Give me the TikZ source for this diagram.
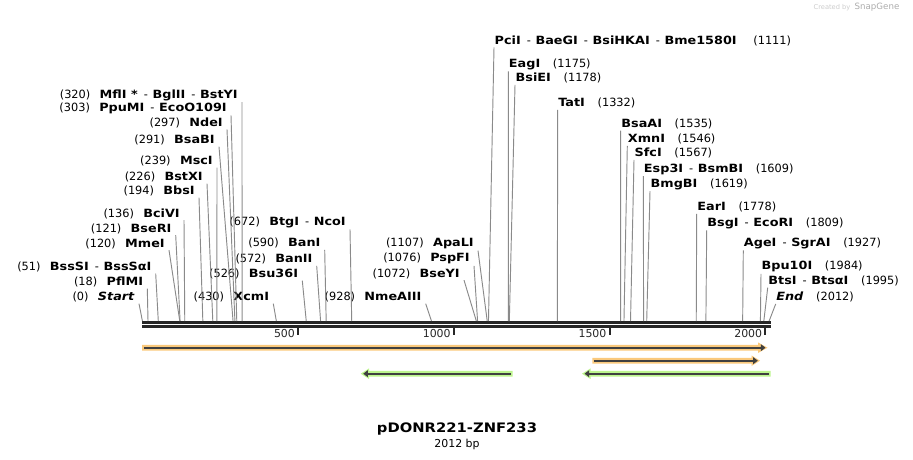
\documentclass[tikz,border=0pt]{standalone}
\usepackage{fontspec}
\setmainfont{DejaVu Sans}[BoldFeatures={FakeStretch=1.13},BoldItalicFeatures={FakeStretch=1.13}]
\usetikzlibrary{arrows.meta}
\definecolor{cutgray}{HTML}{8A8A8A}
\definecolor{axisblack}{HTML}{262626}
\definecolor{featorange}{HTML}{FAC97C}
\definecolor{featgreen}{HTML}{BDF58E}
\definecolor{featdark}{HTML}{404040}
\newcommand{\sepd}{\hspace{4.5pt}-\hspace{3.5pt}}
\newcommand{\lab}{\fontsize{8.5}{10}\selectfont}

\begin{document}
\begin{tikzpicture}[x=0.75pt,y=-0.75pt,
lft/.style={anchor=east,inner xsep=3pt,inner ysep=1pt,font=\lab},
rgt/.style={anchor=west,inner xsep=0.3pt,inner ysep=1pt,font=\lab},
cut/.style={draw=cutgray,line width=0.7pt},
featline/.style={draw=featdark,line width=1.3pt},
tip/.style={-{Triangle[length=3.5pt,width=5pt]}}]
\useasboundingbox (0,0) rectangle (913,460);
\foreach \p in {0,18,51,120,121,136,194,226,239,291,297,303,320,430,526,572,590,672,928,1072,1076,1107,1111,1175,1178,1332,1535,1546,1567,1609,1619,1778,1809,1927,1984,1995,2012}
  \coordinate (p\p) at ({142.4+0.3115*\p},321);
\fill[axisblack] (142,321) rectangle (770.7,323.6);
\fill[axisblack] (142,325.2) rectangle (770.7,327.8);
\foreach \t in {500,1000,1500,2000}{
  \draw[axisblack,line width=1.5pt] ({142.4+0.3115*\t},327) -- ({142.4+0.3115*\t},334.5);
  \node[font=\fontsize{8.2}{10}\selectfont,text=axisblack,anchor=east,inner sep=0pt] (t\t) at ({139.4+0.3115*\t},333.5) {\t};
}
\node[lft] (mfl) at (242,95) {(320)\hspace{7pt}\textbf{MflI *}\sepd\textbf{BglII}\sepd\textbf{BstYI}};
\node[lft] (ppu) at (231,108.3) {(303)\hspace{7pt}\textbf{PpuMI}\sepd\textbf{EcoO109I}};
\node[lft] (nde) at (227,122.7) {(297)\hspace{7pt}\textbf{NdeI}};
\node[lft] (bsab) at (219,140) {(291)\hspace{7pt}\textbf{BsaBI}};
\node[lft] (msc) at (217,161) {(239)\hspace{7pt}\textbf{MscI}};
\node[lft] (bstx) at (207,177) {(226)\hspace{7pt}\textbf{BstXI}};
\node[lft] (bbs) at (199,191) {(194)\hspace{7pt}\textbf{BbsI}};
\node[lft] (bciv) at (184,213.5) {(136)\hspace{7pt}\textbf{BciVI}};
\node[lft] (bser) at (175.7,228.5) {(121)\hspace{7pt}\textbf{BseRI}};
\node[lft] (mme) at (169,243.5) {(120)\hspace{7pt}\textbf{MmeI}};
\node[lft] (bsss) at (155.7,267) {(51)\hspace{7pt}\textbf{BssSI}\sepd\textbf{BssSαI}};
\node[lft] (pflm) at (147.3,282) {(18)\hspace{7pt}\textbf{PflMI}};
\node[lft] (start) at (139,297) {(0)\hspace{7pt}\textbf{\textit{Start}}};
\node[lft] (btg) at (350,222.3) {(672)\hspace{7pt}\textbf{BtgI}\sepd\textbf{NcoI}};
\node[lft] (ban1) at (324.7,243.3) {(590)\hspace{7pt}\textbf{BanI}};
\node[lft] (ban2) at (316.7,259.3) {(572)\hspace{7pt}\textbf{BanII}};
\node[lft] (bsu) at (302.3,274) {(526)\hspace{7pt}\textbf{Bsu36I}};
\node[lft] (xcm) at (273.3,297) {(430)\hspace{7pt}\textbf{XcmI}};
\node[lft] (nme) at (425.7,297) {(928)\hspace{7pt}\textbf{NmeAIII}};
\node[lft] (apal) at (478,243.5) {(1107)\hspace{7pt}\textbf{ApaLI}};
\node[lft] (pspf) at (474,258.7) {(1076)\hspace{7pt}\textbf{PspFI}};
\node[lft] (bsey) at (464,273.5) {(1072)\hspace{7pt}\textbf{BseYI}};
\node[rgt] (pci) at (494,40.7) {\textbf{PciI}\sepd\textbf{BaeGI}\sepd\textbf{BsiHKAI}\sepd\textbf{Bme1580I}\hspace{12.5pt}(1111)};
\node[rgt] (eag) at (508.3,64.3) {\textbf{EagI}\hspace{9.5pt}(1175)};
\node[rgt] (bsie) at (515,78.3) {\textbf{BsiEI}\hspace{9.5pt}(1178)};
\node[rgt] (tat) at (557.7,103.3) {\textbf{TatI}\hspace{9.5pt}(1332)};
\node[rgt] (bsaa) at (620.7,124) {\textbf{BsaAI}\hspace{9.5pt}(1535)};
\node[rgt] (xmn) at (627.3,139.3) {\textbf{XmnI}\hspace{9.5pt}(1546)};
\node[rgt] (sfc) at (634,153.3) {\textbf{SfcI}\hspace{9.5pt}(1567)};
\node[rgt] (esp) at (643.3,169) {\textbf{Esp3I}\sepd\textbf{BsmBI}\hspace{9.5pt}(1609)};
\node[rgt] (bmgb) at (650,184) {\textbf{BmgBI}\hspace{9.5pt}(1619)};
\node[rgt] (ear) at (696.7,207.3) {\textbf{EarI}\hspace{9.5pt}(1778)};
\node[rgt] (bsg) at (706.7,223.3) {\textbf{BsgI}\sepd\textbf{EcoRI}\hspace{9.5pt}(1809)};
\node[rgt] (age) at (743.3,243.3) {\textbf{AgeI}\sepd\textbf{SgrAI}\hspace{9.5pt}(1927)};
\node[rgt] (bpu) at (761,266.7) {\textbf{Bpu10I}\hspace{9.5pt}(1984)};
\node[rgt] (bts) at (767.7,281) {\textbf{BtsI}\sepd\textbf{BtsαI}\hspace{9.5pt}(1995)};
\node[rgt] (stop) at (775.7,297.3) {\textbf{\textit{End}}\hspace{9.5pt}(2012)};
\draw[cut] (mfl.south east) -- (p320);
\draw[cut] (ppu.south east) -- (p303);
\draw[cut] (nde.south east) -- (p297);
\draw[cut] (bsab.south east) -- (p291);
\draw[cut] (msc.south east) -- (p239);
\draw[cut] (bstx.south east) -- (p226);
\draw[cut] (bbs.south east) -- (p194);
\draw[cut] (bciv.south east) -- (p136);
\draw[cut] (bser.south east) -- (p121);
\draw[cut] (mme.south east) -- (p120);
\draw[cut] (bsss.south east) -- (p51);
\draw[cut] (pflm.south east) -- (p18);
\draw[cut] (start.south east) -- (p0);
\draw[cut] (btg.south east) -- (p672);
\draw[cut] (ban1.south east) -- (p590);
\draw[cut] (ban2.south east) -- (p572);
\draw[cut] (bsu.south east) -- (p526);
\draw[cut] (xcm.south east) -- (p430);
\draw[cut] (nme.south east) -- (p928);
\draw[cut] (apal.south east) -- (p1107);
\draw[cut] (pspf.south east) -- (p1076);
\draw[cut] (bsey.south east) -- (p1072);
\draw[cut] (pci.south west) -- (p1111);
\draw[cut] (eag.south west) -- (p1175);
\draw[cut] (bsie.south west) -- (p1178);
\draw[cut] (tat.south west) -- (p1332);
\draw[cut] (bsaa.south west) -- (p1535);
\draw[cut] (xmn.south west) -- (p1546);
\draw[cut] (sfc.south west) -- (p1567);
\draw[cut] (esp.south west) -- (p1609);
\draw[cut] (bmgb.south west) -- (p1619);
\draw[cut] (ear.south west) -- (p1778);
\draw[cut] (bsg.south west) -- (p1809);
\draw[cut] (age.south west) -- (p1927);
\draw[cut] (bpu.south west) -- (p1984);
\draw[cut] (bts.south west) -- (p1995);
\draw[cut] (stop.south west) -- (p2012);
\fill[featorange] (142,344.8) -- (758,344.8) -- (758,342.4) -- (767.5,347.7) -- (758,353) -- (758,350.6) -- (142,350.6) -- cycle;
\draw[featline,tip] (144,347.7) -- (765.5,347.7);
\fill[featorange] (592.3,357.8) -- (751.5,357.8) -- (751.5,355.4) -- (760,360.7) -- (751.5,366) -- (751.5,363.6) -- (592.3,363.6) -- cycle;
\draw[featline,tip] (594,360.7) -- (757.8,360.7);
\fill[featgreen] (512.7,370.8) -- (369,370.8) -- (369,368.4) -- (360.7,373.7) -- (369,379) -- (369,376.6) -- (512.7,376.6) -- cycle;
\draw[featline,tip] (510.8,373.7) -- (363.2,373.7);
\fill[featgreen] (770.7,370.8) -- (590.5,370.8) -- (590.5,368.4) -- (582,373.7) -- (590.5,379) -- (590.5,376.6) -- (770.7,376.6) -- cycle;
\draw[featline,tip] (768.8,373.7) -- (584.5,373.7);
\node[font=\bfseries\fontsize{9.8}{12}\selectfont] (title) at (457,429) {pDONR221-ZNF233};
\node[font=\fontsize{8.2}{10}\selectfont] (size) at (457,444) {2012 bp};
\node[font=\fontsize{5}{6}\selectfont,text=gray!40] (credit) at (832,7.5) {Created by};
\node[font=\fontsize{6.5}{7}\selectfont,text=gray!65] (snap) at (877,7) {SnapGene};
\end{tikzpicture}
\end{document}
